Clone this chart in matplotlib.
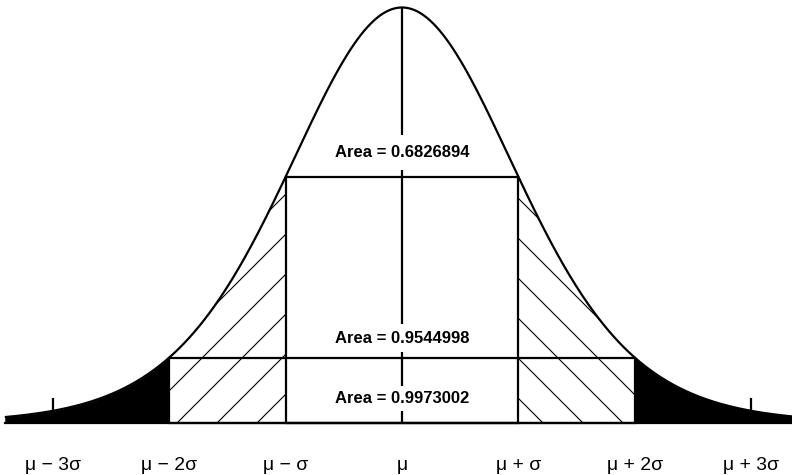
import numpy as np
import matplotlib
matplotlib.use("Agg")
import matplotlib.pyplot as plt
from matplotlib.patches import Rectangle

# positions along the x axis in sigma units, and their labels
sigma_marks = [-3, -2, -1, 0, 1, 2, 3]
mark_labels = ["μ − 3σ", "μ − 2σ", "μ − σ", "μ", "μ + σ", "μ + 2σ", "μ + 3σ"]

# areas within 1, 2 and 3 sigma
box_widths = [1, 2, 3]
areas = [0.6826894, 0.9544998, 0.9973002]

tail_df = 10
x_start, x_end = -3.41, 3.5

# drawn at 120 dpi so the hatch spacing comes out wider; sizes scaled to match
DPI = 120
S = 100 / DPI

plt.rcParams["font.family"] = ["Liberation Sans", "DejaVu Sans"]
plt.rcParams["hatch.linewidth"] = 0.8 * S


def bell(x):
    x = np.asarray(x, dtype=float)
    return (1 + x ** 2 / tail_df) ** (-(tail_df + 1) / 2)


fig = plt.figure(figsize=(792 / DPI, 475 / DPI), dpi=DPI)
ax = fig.add_axes([0, 0, 1, 1])
ax.set_xlim(-3.451, 3.348)
ax.set_ylim(-0.125, 1.018)
ax.axis("off")

lw = 1.6 * S

# black tails beyond 2 sigma
xl = np.linspace(x_start, -2, 200)
xr = np.linspace(2, x_end, 200)
ax.fill_between(xl, 0, bell(xl), color="black", lw=0)
ax.fill_between(xr, 0, bell(xr), color="black", lw=0)

# hatched bands between 1 and 2 sigma
hl = np.linspace(-2, -1, 200)
hr = np.linspace(1, 2, 200)
ax.fill_between(hl, 0, bell(hl), facecolor="none", edgecolor="black", hatch="/", lw=0)
ax.fill_between(hr, 0, bell(hr), facecolor="none", edgecolor="black", hatch="\\", lw=0)

# the curve itself and the baseline
xs = np.linspace(x_start, x_end, 800)
ax.plot(xs, bell(xs), color="black", lw=lw, solid_capstyle="butt")
ax.plot([x_start, x_end], [0, 0], color="black", lw=lw)

# boxes for 1 and 2 sigma
for k in box_widths[:2]:
    ax.add_patch(Rectangle((-k, 0), 2 * k, float(bell(k)), fill=False,
                           edgecolor="black", lw=lw, zorder=3))

# center line and 3 sigma ticks
ax.vlines(0, 0, 1, color="black", lw=lw, zorder=2)
ax.vlines([-3, 3], 0, 0.06, color="black", lw=lw, zorder=2)

# area labels
label_y = [0.650, 0.2046, 0.0602]
label_pad = [0.6, 0.4, 0.3]
for a, yy, p in zip(areas, label_y, label_pad):
    ax.text(0, yy, f"Area = {a:.7f}", ha="center", va="center",
            fontsize=12 * S, fontweight="bold", zorder=4,
            bbox=dict(boxstyle=f"square,pad={p}", fc="white", ec="none"))

# x labels
for m, lab in zip(sigma_marks, mark_labels):
    ax.text(m, -0.101, lab, ha="center", va="center", fontsize=14 * S)

fig.savefig("out.png", dpi=DPI)
